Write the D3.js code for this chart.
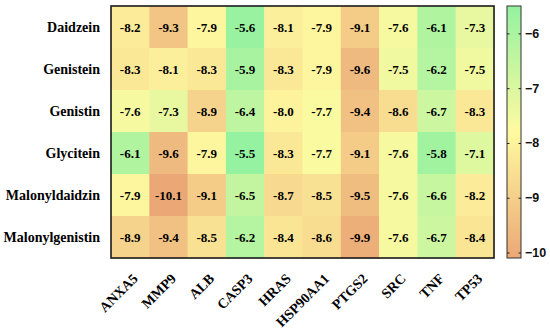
<!DOCTYPE html>
<html>
<head>
<meta charset="utf-8">
<script src="https://cdn.jsdelivr.net/npm/d3@7"></script>
<style>
  body { margin: 0; background: #fff; }
  .cell-label { font-family: "Liberation Serif", "Times New Roman", serif; font-weight: bold; font-size: 13px; }
  .axis-label { font-family: "Liberation Serif", "Times New Roman", serif; font-weight: bold; font-size: 14px; }
  .cbar text { font-family: "Liberation Sans", Arial, sans-serif; font-weight: bold; font-size: 12.5px; }
</style>
</head>
<body>
<svg id="chart" width="550" height="331"></svg>
<script>
// data
var compounds = ["Daidzein", "Genistein", "Genistin", "Glycitein", "Malonyldaidzin", "Malonylgenistin"];
var targets = ["ANXA5", "MMP9", "ALB", "CASP3", "HRAS", "HSP90AA1", "PTGS2", "SRC", "TNF", "TP53"];
var daidzein       = [-8.2, -9.3, -7.9, -5.6, -8.1, -7.9, -9.1, -7.6, -6.1, -7.3];
var genistein      = [-8.3, -8.1, -8.3, -5.9, -8.3, -7.9, -9.6, -7.5, -6.2, -7.5];
var genistin       = [-7.6, -7.3, -8.9, -6.4, -8.0, -7.7, -9.4, -8.6, -6.7, -8.3];
var glycitein      = [-6.1, -9.6, -7.9, -5.5, -8.3, -7.7, -9.1, -7.6, -5.8, -7.1];
var malonyldaidzin = [-7.9, -10.1, -9.1, -6.5, -8.7, -8.5, -9.5, -7.6, -6.6, -8.2];
var malonylgenistin= [-8.9, -9.4, -8.5, -6.2, -8.4, -8.6, -9.9, -7.6, -6.7, -8.4];
var colorTicks = [-6, -7, -8, -9, -10];

var rows = [daidzein, genistein, genistin, glycitein, malonyldaidzin, malonylgenistin];
var cells = [];
rows.forEach(function(r, i) {
  r.forEach(function(v, j) {
    cells.push({ compound: compounds[i], target: targets[j], value: v });
  });
});

var svg = d3.select("#chart");
var plot = { x0: 111, y0: 6, x1: 494, y1: 258 };

var x = d3.scaleBand().domain(targets).range([plot.x0, plot.x1]);
var y = d3.scaleBand().domain(compounds).range([plot.y0, plot.y1]);

var color = d3.scaleLinear()
  .domain([-10.1, -7.8, -5.5])
  .range(["#eba876", "#fffaa0", "#94f2a0"]);

// Cells
svg.selectAll("rect.cell")
  .data(cells).enter()
  .append("rect")
  .attr("class", "cell")
  .attr("x", function(d) { return x(d.target); })
  .attr("y", function(d) { return y(d.compound); })
  .attr("width", x.bandwidth() + 0.5)
  .attr("height", y.bandwidth() + 0.5)
  .style("fill", function(d) { return color(d.value); });

svg.selectAll("text.cell-label")
  .data(cells).enter()
  .append("text")
  .attr("class", "cell-label")
  .attr("x", function(d) { return x(d.target) + x.bandwidth() / 2; })
  .attr("y", function(d) { return y(d.compound) + y.bandwidth() / 2; })
  .attr("dy", "0.35em")
  .attr("text-anchor", "middle")
  .text(function(d) { return d.value.toFixed(1); });

// frame
svg.append("rect")
  .attr("x", plot.x0).attr("y", plot.y0)
  .attr("width", plot.x1 - plot.x0).attr("height", plot.y1 - plot.y0)
  .style("fill", "none").style("stroke", "#1a1a1a").style("stroke-width", 1.6);

// Row labels
svg.selectAll("text.row")
  .data(compounds).enter()
  .append("text")
  .attr("class", "axis-label row")
  .attr("x", plot.x0 - 11)
  .attr("y", function(d) { return y(d) + y.bandwidth() / 2; })
  .attr("dy", "0.35em")
  .attr("text-anchor", "end")
  .text(function(d) { return d; });

// Column labels
svg.selectAll("text.col")
  .data(targets).enter()
  .append("text")
  .attr("class", "axis-label col")
  .attr("transform", function(d) {
    return "translate(" + (x(d) + x.bandwidth() / 2 + 5) + "," + (plot.y1 + 18) + ") rotate(-45)";
  })
  .attr("text-anchor", "end")
  .attr("dy", "0.35em")
  .text(function(d) { return d; });

// Color bar
var cbX = 507, cbW = 14;
var cy = d3.scaleLinear().domain([-10.1, -5.5]).range([plot.y1, plot.y0]);
var grad = svg.append("defs").append("linearGradient")
  .attr("id", "cbgrad").attr("x1", 0).attr("y1", 1).attr("x2", 0).attr("y2", 0);
color.domain().forEach(function(v) {
  grad.append("stop")
    .attr("offset", (v - (-10.1)) / 4.6)
    .attr("stop-color", color(v));
});
svg.append("rect")
  .attr("x", cbX).attr("y", plot.y0)
  .attr("width", cbW).attr("height", plot.y1 - plot.y0)
  .style("fill", "url(#cbgrad)")
  .style("stroke", "#333").style("stroke-width", 1);

var cbar = svg.append("g")
  .attr("class", "cbar")
  .attr("transform", "translate(" + (cbX + cbW) + ",0)")
  .call(d3.axisRight(cy).tickValues(colorTicks).tickSize(-2.5).tickPadding(4).tickFormat(d3.format("d")));
cbar.select(".domain").remove();
cbar.selectAll("line").style("stroke", "#222");
cbar.selectAll("text").style("fill", "#111");

var cbarL = svg.append("g")
  .attr("transform", "translate(" + cbX + ",0)")
  .call(d3.axisLeft(cy).tickValues(colorTicks).tickSize(-2.5).tickFormat(""));
cbarL.select(".domain").remove();
cbarL.selectAll("line").style("stroke", "#222");
</script>
</body>
</html>
